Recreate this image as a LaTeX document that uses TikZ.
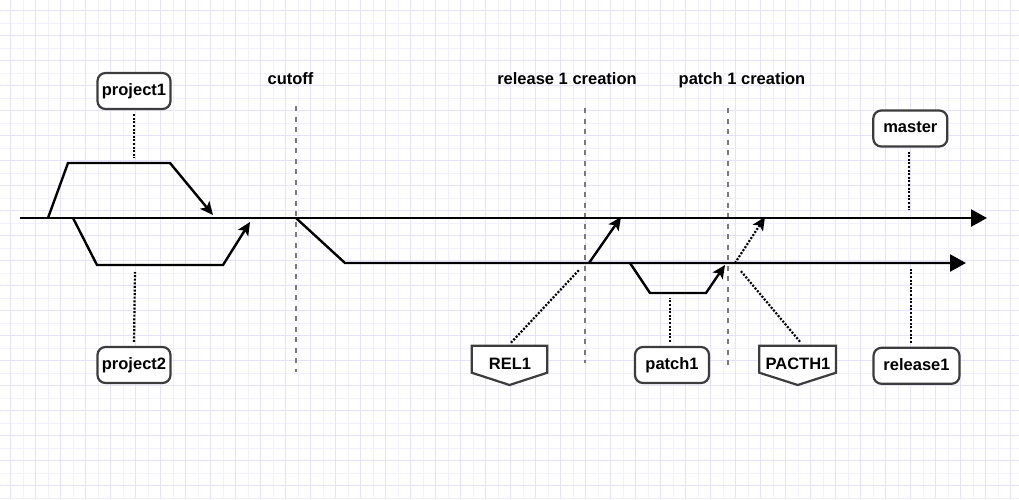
\documentclass[tikz,border=0pt]{standalone}
\usepackage{fontspec}
\setmainfont{Liberation Sans}
\usetikzlibrary{arrows.meta}
\definecolor{gridc}{HTML}{F2F0FE}
\definecolor{gridm}{HTML}{E6E2FC}
\definecolor{nodeborder}{HTML}{3C3C3C}
\definecolor{dashc}{HTML}{7A7A7A}
\tikzset{
  gridline/.style={draw=gridc, line width=1pt},
  gridmajor/.style={draw=gridm, line width=1pt},
  mainline/.style={line width=2.4pt, -{Triangle[length=16pt,width=17pt]}},
  branchline/.style={line width=2.4pt, line join=miter, -{Stealth[length=13pt,width=12pt,inset=3pt]}},
  dotline/.style={line width=2.2pt, dash pattern=on 2pt off 1.6pt},
  dotarrow/.style={line width=2.2pt, dash pattern=on 2pt off 1.6pt, -{Stealth[length=13pt,width=12pt,inset=3pt]}},
  cutline/.style={draw=dashc, line width=2.2pt, dash pattern=on 5pt off 5.5pt},
  labelbox/.style={draw=nodeborder, line width=2.2pt, fill=white, rounded corners=8pt,
    minimum height=36pt, inner sep=0pt, font=\fontsize{16.5}{19}\selectfont\bfseries,
    text height=11.9pt, text depth=3.4pt},
  plaintext/.style={inner sep=0pt, font=\fontsize{16.5}{19}\selectfont\bfseries,
    text height=11.9pt, text depth=3.4pt},
  heading/.style={inner sep=0pt, anchor=base, font=\fontsize{16.5}{19}\selectfont\bfseries},
  offpage/.style={draw=nodeborder, line width=2.2pt, fill=white, line join=miter}
}
\begin{document}
\begin{tikzpicture}[x=1pt,y=-1pt]
\useasboundingbox (0,0) rectangle (1019,499);
\fill[white] (0,0) rectangle (1019,499);
% grid
\foreach \i in {0,...,40} {\draw[gridline] ({23.2+25*\i},0) -- ({23.2+25*\i},499);}
\foreach \j in {0,...,19} {\draw[gridline] (0,{23.2+25*\j}) -- (1019,{23.2+25*\j});}
\foreach \i in {0,...,40} {\draw[gridmajor] ({10.7+25*\i},0) -- ({10.7+25*\i},499);}
\foreach \j in {0,...,19} {\draw[gridmajor] (0,{10.7+25*\j}) -- (1019,{10.7+25*\j});}

% headings
\node[heading] (hcut) at (290.5,84) {cutoff};
\node[heading] (hrel) at (567,84) {release 1 creation};
\node[heading] (hpat) at (742,84) {patch 1 creation};

% cut lines
\coordinate (c1t) at (296,106); \coordinate (c1b) at (296,372);
\coordinate (c2t) at (585,108); \coordinate (c2b) at (585,363);
\coordinate (c3t) at (728,108); \coordinate (c3b) at (728,366);
\draw[cutline] (c1t) -- (c1b);
\draw[cutline] (c2t) -- (c2b);
\draw[cutline] (c3t) -- (c3b);

% master line
\coordinate (ms) at (20,218);
\coordinate (me) at (987,218);
\draw[mainline] (ms) -- (me);

% release line
\coordinate (cut) at (296,218);
\coordinate (rs) at (345,263);
\coordinate (re) at (966,263);
\draw[mainline] (cut) -- (rs) -- (re);

% project branches
\draw[branchline] (48,218) -- (68,163) -- (170,163) -- (213,215);
\draw[branchline] (73,218) -- (97,265) -- (223,265) -- (250,222);

% release merge
\draw[branchline] (589,263) -- (621,217);

% patch branch
\draw[branchline] (630,263) -- (650,293) -- (706,293) -- (725,265);

% patch merge to master (dotted)
\draw[dotarrow] (735,263) -- (765,217);

% label boxes
\node[labelbox, minimum width=73pt] (project1) at (134,91) {project1};
\node[labelbox, minimum width=73pt] (project2) at (134,365) {project2};
\node[labelbox, minimum width=74pt] (patch1) at (672,365) {patch1};
\node[labelbox, minimum width=74pt] (master) at (910.3,128.5) {master};
\node[labelbox, minimum width=86pt] (release1) at (916.5,365.8) {release1};

% off-page shapes
\draw[offpage] (471.7,345.7) -- (547.3,345.7) -- (547.3,372.7) -- (509.5,385) -- (471.7,372.7) -- cycle;
\node[plaintext] (rel1) at (510,365) {REL1};
\draw[offpage] (759.3,345.7) -- (836,345.7) -- (836,372.7) -- (797.7,385) -- (759.3,372.7) -- cycle;
\node[plaintext] (pacth1) at (798,365) {PACTH1};

% dotted connectors
\coordinate (p1e) at (134,158);
\coordinate (p2e) at (135,272);
\coordinate (pae) at (670,298);
\coordinate (mae) at (909,210);
\coordinate (r1e) at (911,269);
\coordinate (rele) at (579,270);
\coordinate (pace) at (740,270);
\draw[dotline] ([yshift=-4pt]project1.south) -- (p1e);
\draw[dotline] ([yshift=4pt]project2.north) -- (p2e);
\draw[dotline] ([yshift=4pt]patch1.north -| pae) -- (pae);
\draw[dotline] ([yshift=-4pt]master.south -| mae) -- (mae);
\draw[dotline] ([yshift=4pt]release1.north -| r1e) -- (r1e);
\draw[dotline] (511,342.7) coordinate (rels) -- (rele);
\draw[dotline] (800,341.7) coordinate (pacs) -- (pace);
\end{tikzpicture}
\end{document}
